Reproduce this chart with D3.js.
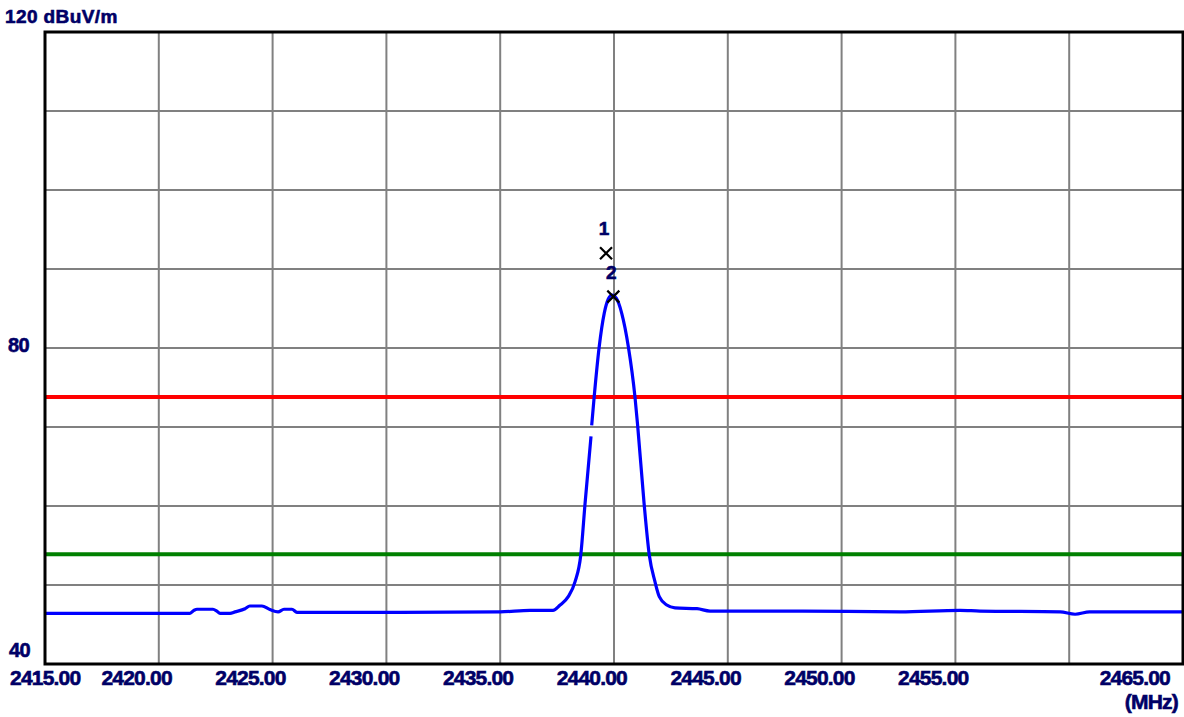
<!DOCTYPE html>
<html>
<head>
<meta charset="utf-8">
<script src="https://cdn.jsdelivr.net/npm/d3@7"></script>
<style>
  html, body { margin: 0; padding: 0; background: #fff; }
  svg { display: block; }
  text { font-family: "Liberation Sans", Arial, sans-serif; font-weight: bold; fill: #000066; stroke: #000066; stroke-width: 0.6px; }
</style>
</head>
<body>
<svg id="chart" width="1184" height="717"></svg>
<script>
// ---- data ----
const xDomain = [2415, 2465];           // MHz
const yDomain = [40, 120];              // dBuV/m
const xGridValues = [2415, 2420, 2425, 2430, 2435, 2440, 2445, 2450, 2455, 2460, 2465];
const yGridValues = [40, 50, 60, 70, 80, 90, 100, 110, 120];
const xTickLabels = [2415, 2420, 2425, 2430, 2435, 2440, 2445, 2450, 2455, 2465];
const yTickValues = [120, 80, 40];
const yTickLabels = ["120 dBuV/m", "80", "40"];
const xUnit = "(MHz)";

const traceFreq = [
  2415.00, 2418.30, 2421.37, 2421.55, 2421.68, 2422.38, 2422.55, 2422.69, 2423.13, 2423.35,
  2423.79, 2424.00, 2424.53, 2424.88, 2425.24, 2425.50, 2425.85, 2426.07, 2430.60, 2435.00,
  2436.31, 2437.32, 2437.63, 2437.99, 2438.29, 2438.54, 2438.73, 2438.99, 2439.00, 2439.02,
  2439.13, 2439.35, 2439.57, 2439.75, 2439.91, 2440.10, 2440.34, 2440.63, 2440.92, 2441.04,
  2441.32, 2441.55, 2441.80, 2441.99, 2442.32, 2442.68, 2443.65, 2444.22, 2448.17, 2452.57,
  2455.20, 2456.08, 2459.60, 2460.26, 2460.90, 2465.00
];
const traceLevel = [
  46.42, 46.42, 46.42, 46.80, 46.93, 46.93, 46.70, 46.42, 46.42, 46.60,
  47.00, 47.34, 47.34, 46.90, 46.60, 46.93, 46.93, 46.54, 46.54, 46.60,
  46.80, 46.80, 47.47, 48.52, 50.42, 53.80, 60.38, 68.80, null,  70.20,
  73.84, 80.16, 84.39, 86.20, 86.71, 86.30, 84.39, 80.16, 73.84, 70.16,
  60.38, 53.80, 50.42, 48.52, 47.47, 47.10, 47.00, 46.70, 46.70, 46.60,
  46.80, 46.70, 46.60, 46.30, 46.60, 46.60
];

const limitLines = [73.8, 53.9];
const limitColors = ["#ff0000", "#008000"];

const markerIds = ["1", "2"];
const markerFreq = [2439.65, 2439.97];
const markerLevel = [92.0, 86.5];

// ---- drawing ----
const svg = d3.select("#chart");
const pL = 45, pR = 1183, pT = 32, pB = 664;

const x = d3.scaleLinear().domain(xDomain).range([pL, pR]);
const y = d3.scaleLinear().domain(yDomain).range([pB, pT]);

// grid
svg.append("g").selectAll("line").data(xGridValues).join("line")
  .attr("x1", d => x(d)).attr("x2", d => x(d))
  .attr("y1", pT).attr("y2", pB)
  .attr("stroke", "#808080").attr("stroke-width", 2);
svg.append("g").selectAll("line").data(yGridValues).join("line")
  .attr("x1", pL).attr("x2", pR)
  .attr("y1", d => y(d)).attr("y2", d => y(d))
  .attr("stroke", "#808080").attr("stroke-width", 2);

// limit lines
svg.append("g").selectAll("line").data(limitLines).join("line")
  .attr("x1", pL).attr("x2", pR)
  .attr("y1", d => y(d)).attr("y2", d => y(d))
  .attr("stroke", (d, i) => limitColors[i]).attr("stroke-width", 4);

// trace
const traceData = traceFreq.map((f, i) => ({ f, v: traceLevel[i] }));
const line = d3.line()
  .defined(d => d.v !== null)
  .curve(d3.curveMonotoneX)
  .x(d => x(d.f)).y(d => y(d.v));
svg.append("path").datum(traceData)
  .attr("d", line)
  .attr("fill", "none")
  .attr("stroke", "#0000ff")
  .attr("stroke-width", 3.2)
  .attr("stroke-linejoin", "round");

// frame
svg.append("rect")
  .attr("x", pL).attr("y", pT)
  .attr("width", pR - pL).attr("height", pB - pT)
  .attr("fill", "none").attr("stroke", "#000").attr("stroke-width", 3);

// markers
const mk = svg.append("g");
markerIds.forEach((id, i) => {
  const cx = x(markerFreq[i]), cy = y(markerLevel[i]);
  const s = 6;
  mk.append("path")
    .attr("d", `M${cx - s},${cy - s}L${cx + s},${cy + s}M${cx - s},${cy + s}L${cx + s},${cy - s}`)
    .attr("stroke", "#000").attr("stroke-width", 2.2).attr("fill", "none");
  mk.append("text")
    .attr("x", cx - 2).attr("y", cy - 18)
    .attr("text-anchor", "middle")
    .attr("font-size", 19)
    .text(id);
});

// x labels
const xl = svg.append("g").attr("font-size", 21).attr("letter-spacing", "-0.8");
xTickLabels.forEach((v, i) => {
  const t = xl.append("text").attr("y", 685).text(v.toFixed(2));
  if (i === 0) {
    t.attr("x", 10).attr("text-anchor", "start");
  } else if (i === xTickLabels.length - 1) {
    t.attr("x", pR - 13).attr("text-anchor", "end");
  } else {
    t.attr("x", x(v) + 13).attr("text-anchor", "end");
  }
});
xl.append("text").attr("x", pR - 5).attr("y", 709)
  .attr("text-anchor", "end").text(xUnit);

// y labels
const yl = svg.append("g");
yTickValues.forEach((v, i) => {
  const t = yl.append("text").text(yTickLabels[i]);
  if (i === 0) {
    t.attr("x", 5).attr("y", y(v) - 9).attr("font-size", 19).attr("letter-spacing", "0.4");
  } else if (i === yTickValues.length - 1) {
    t.attr("x", 9).attr("y", y(v) - 7).attr("font-size", 20).attr("letter-spacing", "-0.6");
  } else {
    t.attr("x", 8).attr("y", y(v) + 4).attr("font-size", 20).attr("letter-spacing", "-0.6");
  }
});
</script>
</body>
</html>
